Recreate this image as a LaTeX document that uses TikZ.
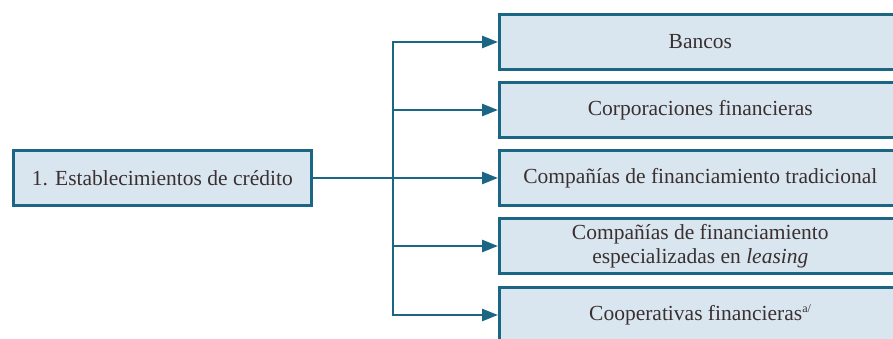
\documentclass[tikz,border=0pt]{standalone}
\usepackage{fontspec}
\setmainfont{Liberation Serif}
\usetikzlibrary{arrows.meta}
\definecolor{edge}{HTML}{1B6585}
\definecolor{boxfill}{HTML}{D9E6F0}
\definecolor{txt}{HTML}{3A3030}
\tikzset{
  box/.style={draw=edge, fill=boxfill, line width=2.6pt, minimum height=55pt, inner sep=0pt, text=txt, font=\fontsize{21.5}{24}\selectfont, align=center},
  rbox/.style={box, minimum width=430pt, anchor=west},
  conn/.style={draw=edge, line width=2.6pt},
  arr/.style={conn, -{Triangle[length=16pt,width=12pt]}},
}
\begin{document}
\begin{tikzpicture}[x=1pt,y=-1pt]
\useasboundingbox (0,0) rectangle (893,339);
\clip (0,0) rectangle (893,339);
\node[box, minimum width=298pt, anchor=west] (src) at (12,178) {1. Establecimientos de crédito};
\node[rbox] (b1) at (498,42) {\hspace*{-28pt}Bancos};
\node[rbox] (b2) at (498,110) {\hspace*{-28pt}Corporaciones financieras};
\node[rbox] (b3) at (498,178) {\hspace*{-28pt}Compañías de financiamiento tradicional};
\node[rbox] (b4) at (498,246) {\hspace*{-28pt}Compañías de financiamiento\\\hspace*{-28pt}especializadas en \textit{leasing}};
\node[rbox] (b5) at (498,315) {\hspace*{-28pt}Cooperativas financieras\textsuperscript{\fontsize{12}{12}\selectfont a/}};
\coordinate (j) at (393,178);
\draw[conn, line cap=rect] (j |- b1.west) -- (j |- b5.west);
\draw[conn] (src.east) -- (j);
\foreach \b in {b1,b2,b3,b4,b5}
  \draw[arr] (j |- \b.west) -- (\b.west);
\end{tikzpicture}
\end{document}
